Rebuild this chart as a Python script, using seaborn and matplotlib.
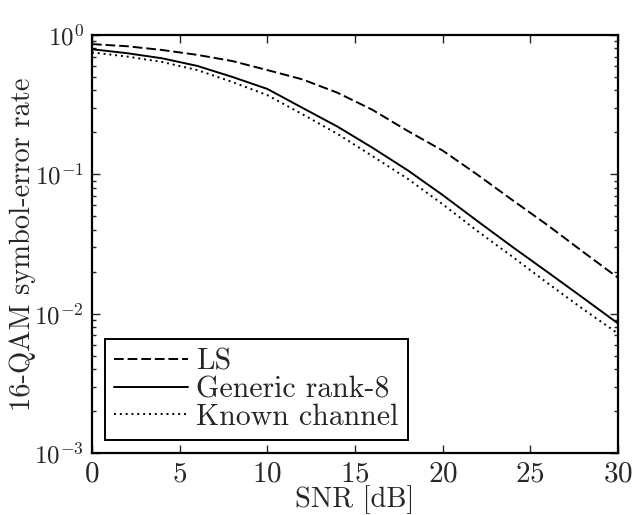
import numpy as np
import pandas as pd
import seaborn as sns
import matplotlib.pyplot as plt
from matplotlib.ticker import LogLocator, NullFormatter

snr_db = [0, 2, 4, 6, 8, 10, 12, 14, 16, 18, 20, 22, 24, 26, 28, 30]
ser_ls = [0.86, 0.83, 0.78, 0.72, 0.65, 0.56, 0.48, 0.385, 0.29, 0.205,
          0.148, 0.099, 0.065, 0.043, 0.0278, 0.0181]
ser_generic = [0.79, 0.74, 0.68, 0.60, 0.50, 0.41, 0.30, 0.22, 0.155, 0.107,
               0.071, 0.046, 0.030, 0.0198, 0.0130, 0.0085]
ser_known = [0.75, 0.70, 0.64, 0.56, 0.46, 0.37, 0.27, 0.195, 0.135, 0.093,
             0.061, 0.039, 0.0255, 0.0165, 0.0108, 0.0072]
labels = ['LS', 'Generic rank-8', 'Known channel']

sns.set_style('ticks')
plt.rcParams['font.family'] = ['cmr10', 'DejaVu Serif']
plt.rcParams['mathtext.fontset'] = 'cm'
plt.rcParams['axes.formatter.use_mathtext'] = True
plt.rcParams['axes.unicode_minus'] = False

fig = plt.figure(figsize=(6.37, 5.15), dpi=100)
ax = fig.add_axes([0.1444, 0.1204, 0.8258, 0.8117])

styles = [(0, (5, 2)), '-', (0, (1, 2))]
for ser, lab, ls in zip([ser_ls, ser_generic, ser_known], labels, styles):
    sns.lineplot(x=snr_db, y=ser, ax=ax, color='black', linewidth=1.4,
                 linestyle=ls, label=lab)

ax.set_yscale('log')
ax.set_xlim(0, 30)
ax.set_ylim(1e-3, 1)
ax.set_xticks([0, 5, 10, 15, 20, 25, 30])
ax.yaxis.set_major_locator(LogLocator(base=10, numticks=10))
ax.yaxis.set_minor_locator(LogLocator(base=10, subs=np.arange(2, 10), numticks=20))
ax.yaxis.set_minor_formatter(NullFormatter())

ax.tick_params(which='both', direction='in', top=True, right=True, width=1.0)
ax.tick_params(axis='x', labelsize=21, pad=6)
ax.tick_params(axis='y', labelsize=18, pad=6)
ax.tick_params(which='major', length=6)
ax.tick_params(which='minor', length=3)
for sp in ax.spines.values():
    sp.set_linewidth(1.6)
    sp.set_color('black')

ax.set_xlabel('SNR [dB]', fontsize=20.5)
ax.set_ylabel('16-QAM symbol-error rate', fontsize=20.5)
ax.xaxis.set_label_coords(0.5, -0.078)
ax.yaxis.set_label_coords(-0.106, 0.5)

leg = ax.legend(loc='lower left', fontsize=21.5, frameon=True, fancybox=False,
                edgecolor='black', handlelength=2.45, handletextpad=0.3,
                borderaxespad=0.45, borderpad=0.3, labelspacing=0.0)
leg.get_frame().set_linewidth(1.4)
leg.get_frame().set_alpha(1)

fig.savefig('out.png', dpi=100)
